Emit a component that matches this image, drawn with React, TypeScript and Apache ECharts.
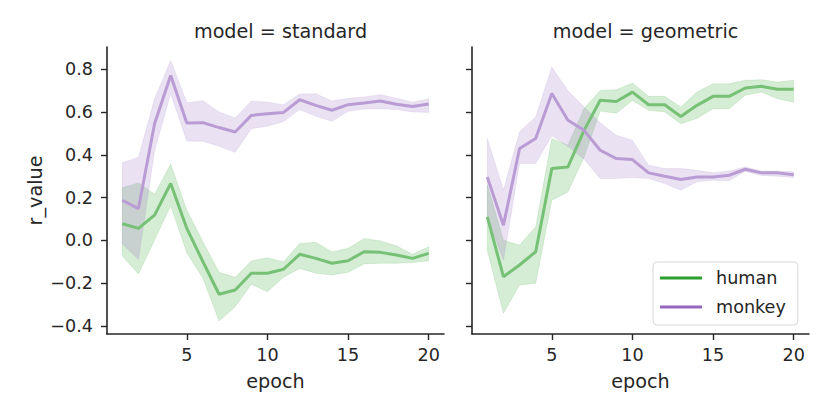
import React, { useEffect, useRef } from "react";
import * as echarts from "echarts";

const epochs = [1, 2, 3, 4, 5, 6, 7, 8, 9, 10, 11, 12, 13, 14, 15, 16, 17, 18, 19, 20];
const xTicks = [5, 10, 15, 20];
const yTicks = [-0.4, -0.2, 0, 0.2, 0.4, 0.6, 0.8];
const panelTitles = ["model = standard", "model = geometric"];
const groups = ["human", "monkey"];

// model = standard
const stdHumanMean = [0.078, 0.056, 0.118, 0.266, 0.056, -0.1, -0.252, -0.232, -0.154, -0.154, -0.135, -0.065, -0.084, -0.107, -0.095, -0.053, -0.056, -0.068, -0.084, -0.061];
const stdHumanLo = [-0.073, -0.157, 0.002, 0.162, -0.058, -0.177, -0.377, -0.31, -0.205, -0.24, -0.173, -0.131, -0.154, -0.162, -0.149, -0.11, -0.107, -0.107, -0.104, -0.095];
const stdHumanHi = [0.246, 0.269, 0.216, 0.357, 0.142, -0.006, -0.149, -0.173, -0.096, -0.081, -0.1, -0.014, -0.009, -0.054, -0.037, 0.009, -0.003, -0.025, -0.065, -0.03];
const stdMonkeyMean = [0.188, 0.149, 0.546, 0.772, 0.549, 0.551, 0.528, 0.507, 0.585, 0.593, 0.599, 0.658, 0.632, 0.609, 0.635, 0.643, 0.652, 0.637, 0.627, 0.638];
const stdMonkeyLo = [-0.017, -0.089, 0.42, 0.687, 0.465, 0.464, 0.44, 0.412, 0.523, 0.534, 0.556, 0.612, 0.581, 0.557, 0.604, 0.615, 0.616, 0.612, 0.601, 0.599];
const stdMonkeyHi = [0.363, 0.388, 0.663, 0.842, 0.644, 0.654, 0.601, 0.573, 0.652, 0.647, 0.635, 0.685, 0.686, 0.652, 0.665, 0.671, 0.682, 0.665, 0.647, 0.663];

// model = geometric
const geoHumanMean = [0.11, -0.17, -0.115, -0.053, 0.336, 0.344, 0.515, 0.656, 0.65, 0.694, 0.635, 0.635, 0.58, 0.632, 0.674, 0.674, 0.713, 0.721, 0.707, 0.707];
const geoHumanLo = [-0.048, -0.341, -0.209, -0.2, 0.188, 0.227, 0.39, 0.605, 0.595, 0.655, 0.609, 0.601, 0.546, 0.57, 0.616, 0.616, 0.679, 0.694, 0.663, 0.647];
const geoHumanHi = [0.26, 0.001, -0.022, 0.064, 0.477, 0.445, 0.617, 0.702, 0.705, 0.736, 0.674, 0.674, 0.624, 0.694, 0.733, 0.733, 0.749, 0.752, 0.741, 0.749];
const geoMonkeyMean = [0.297, 0.071, 0.43, 0.477, 0.687, 0.562, 0.515, 0.422, 0.383, 0.378, 0.316, 0.3, 0.285, 0.297, 0.297, 0.305, 0.333, 0.316, 0.316, 0.307];
const geoMonkeyLo = [0.11, -0.092, 0.36, 0.36, 0.49, 0.44, 0.38, 0.29, 0.29, 0.294, 0.29, 0.266, 0.235, 0.274, 0.282, 0.279, 0.324, 0.304, 0.3, 0.294];
const geoMonkeyHi = [0.477, 0.235, 0.508, 0.578, 0.811, 0.7, 0.624, 0.55, 0.492, 0.468, 0.352, 0.336, 0.336, 0.328, 0.316, 0.325, 0.344, 0.325, 0.325, 0.321];

const COLORS: Record<string, string> = { human: "#2ca02c", monkey: "#9467bd" };
const BAND_FILL: Record<string, string> = { human: "rgba(44,160,44,0.2)", monkey: "rgba(148,103,189,0.2)" };
const BAND_EDGE: Record<string, string> = { human: "rgba(44,160,44,0.12)", monkey: "rgba(148,103,189,0.12)" };
const LINE_COLORS: Record<string, string> = { human: "#76c176", monkey: "#b99cd4" };
const INK = "#262626";
const FONT = "DejaVu Sans";

function groupSeries(name: string, g: number, lo: number[], hi: number[], mean: number[]) {
  const color = COLORS[name];
  return [
    {
      type: "custom",
      name: `${name} ci`,
      xAxisIndex: g,
      yAxisIndex: g,
      silent: true,
      data: epochs.map((e, i) => [e, lo[i], hi[i]]),
      encode: { x: 0, y: [1, 2] },
      renderItem: (params: any, api: any) => {
        if (params.dataIndex !== 0) return null;
        const upper = epochs.map((e, i) => api.coord([e, hi[i]]));
        const lower = epochs.map((e, i) => api.coord([e, lo[i]])).reverse();
        return {
          type: "polygon",
          shape: { points: upper.concat(lower) },
          style: { fill: BAND_FILL[name], stroke: BAND_EDGE[name], lineWidth: 1 },
        };
      },
    },
    {
      type: "line",
      name,
      xAxisIndex: g,
      yAxisIndex: g,
      data: epochs.map((e, i) => [e, mean[i]]),
      symbol: "none",
      itemStyle: { color },
      lineStyle: { color: LINE_COLORS[name], width: 3 },
    },
  ];
}

const fmtY = (v: number) => {
  const s = Math.abs(v).toFixed(1);
  return v < -1e-9 ? "\u2212" + s : s;
};

export default function App() {
  const ref = useRef<HTMLDivElement>(null);
  useEffect(() => {
    document.body.style.margin = "0";
    if (!ref.current) return;
    const chart = echarts.init(ref.current, undefined, { renderer: "svg" });
    const axisLine = { show: true, onZero: false, lineStyle: { color: INK, width: 1.6 } };
    const gridLeft = [107, 472];
    const xAxes = [0, 1].map((g) => ({
      gridIndex: g,
      type: "value",
      min: 0.05,
      max: 20.95,
      axisLine,
      axisTick: { show: true, length: 6, customValues: xTicks, lineStyle: { color: INK, width: 1.4 } },
      axisLabel: { customValues: xTicks, margin: 12, fontSize: 17.6, color: INK, fontFamily: FONT },
      splitLine: { show: false },
      name: "epoch",
      nameLocation: "middle",
      nameGap: 38,
      nameTextStyle: { fontSize: 19.2, color: INK, fontFamily: FONT },
    }));
    const yAxes = [0, 1].map((g) => ({
      gridIndex: g,
      type: "value",
      min: -0.438,
      max: 0.905,
      axisLine,
      axisTick: { show: true, length: 6, customValues: yTicks, lineStyle: { color: INK, width: 1.4 } },
      axisLabel: {
        show: g === 0,
        customValues: yTicks,
        margin: 14,
        fontSize: 17.6,
        color: INK,
        fontFamily: FONT,
        formatter: fmtY,
      },
      splitLine: { show: false },
      name: g === 0 ? "r_value" : "",
      nameLocation: "middle",
      nameGap: 62,
      nameTextStyle: { fontSize: 19.2, color: INK, fontFamily: FONT },
    }));
    const series = [
      ...groupSeries("human", 0, stdHumanLo, stdHumanHi, stdHumanMean),
      ...groupSeries("monkey", 0, stdMonkeyLo, stdMonkeyHi, stdMonkeyMean),
      ...groupSeries("human", 1, geoHumanLo, geoHumanHi, geoHumanMean),
      ...groupSeries("monkey", 1, geoMonkeyLo, geoMonkeyHi, geoMonkeyMean),
    ];
    chart.setOption({
      animation: false,
      textStyle: { fontFamily: FONT },
      title: panelTitles.map((t, g) => ({
        text: t,
        left: gridLeft[g] + 168.5,
        top: 17,
        textAlign: "center",
        textStyle: { fontSize: 19.2, fontWeight: "normal", color: INK, fontFamily: FONT },
      })),
      grid: gridLeft.map((l) => ({ left: l, top: 47, width: 337, height: 287 })),
      xAxis: xAxes,
      yAxis: yAxes,
      legend: {
        orient: "vertical",
        left: 653,
        top: 262,
        padding: [7, 12, 9, 7],
        itemGap: 11,
        itemWidth: 42,
        itemHeight: 3,
        backgroundColor: "rgba(255,255,255,0.8)",
        borderColor: "#d6d6d6",
        borderWidth: 1,
        borderRadius: 4,
        textStyle: { fontSize: 17.6, color: INK, fontFamily: FONT, padding: [0, 0, 0, 9] },
        data: groups.map((n) => ({ name: n, icon: "rect", itemStyle: { color: COLORS[n] } })),
      },
      series,
    });
    return () => chart.dispose();
  }, []);
  return <div ref={ref} style={{ width: 830, height: 415 }} />;
}
